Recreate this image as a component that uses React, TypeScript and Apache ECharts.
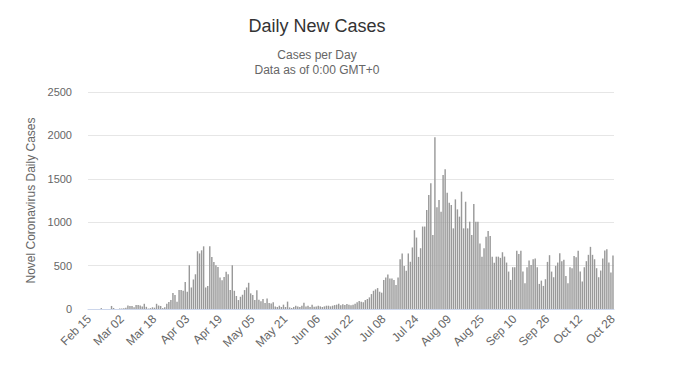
import React, { useEffect, useRef } from "react";
import * as echarts from "echarts";

// Daily new cases, Feb 15 .. Oct 28 (257 days)
const casesFeb: number[] = [0, 0, 0, 0, 0, 0, 10, 0, 0, 0, 0, 35, 12, 0, 0];
const casesMar: number[] = [
  5, 5, 8, 15, 40, 35, 35, 20, 45, 45, 40, 30, 60, 25, 5, 10, 20, 15, 60, 40, 35, 10, 20, 60, 80, 105, 185, 160,
  84, 218, 218,
];
const casesApr: number[] = [
  210, 310, 200, 504, 248, 340, 400, 665, 640, 676, 722, 248, 264, 722, 600, 542, 504, 485, 363, 332, 370, 428,
  400, 218, 504, 210, 150, 103, 141, 164,
];
const casesMay: number[] = [
  218, 248, 302, 180, 160, 103, 215, 108, 88, 115, 70, 120, 70, 62, 77, 30, 23, 38, 23, 50, 23, 85, 19, 12, 23,
  38, 30, 23, 38, 73, 30,
];
const casesJun: number[] = [
  38, 23, 50, 25, 30, 38, 30, 23, 30, 38, 38, 30, 38, 45, 50, 60, 42, 54, 46, 57, 50, 42, 50, 61, 77, 92, 84, 77,
  103, 115,
];
const casesJul: number[] = [
  134, 172, 210, 226, 241, 199, 188, 333, 364, 398, 352, 352, 333, 276, 364, 574, 640, 494, 440, 640, 544, 709,
  908, 823, 600, 700, 950, 950, 1140, 1313, 1448,
];
const casesAug: number[] = [
  852, 1978, 1171, 1256, 1121, 1544, 1609, 1340, 1225, 1198, 929, 1263, 1148, 1064, 1352, 929, 1236, 929, 1006,
  852, 1210, 1006, 1006, 756, 603, 699, 833, 899, 841, 603, 534,
];
const casesSep: number[] = [
  603, 603, 589, 654, 604, 535, 431, 335, 481, 481, 670, 635, 670, 431, 296, 481, 558, 508, 573, 581, 481, 289,
  327, 266, 343, 543, 620, 431, 366, 497,
];
const casesOct: number[] = [
  535, 643, 551, 566, 381, 296, 481, 470, 612, 597, 670, 431, 316, 481, 551, 624, 716, 624, 573, 470, 366, 443,
  581, 674, 689, 535, 420, 616,
];

const cases: number[] = [
  ...casesFeb,
  ...casesMar,
  ...casesApr,
  ...casesMay,
  ...casesJun,
  ...casesJul,
  ...casesAug,
  ...casesSep,
  ...casesOct,
];

const MONTHS = ["Jan", "Feb", "Mar", "Apr", "May", "Jun", "Jul", "Aug", "Sep", "Oct", "Nov", "Dec"];
const startDate = Date.UTC(2020, 1, 15);
const categories: string[] = cases.map((_, i) => {
  const d = new Date(startDate + i * 86400000);
  const dd = d.getUTCDate();
  return `${MONTHS[d.getUTCMonth()]} ${dd < 10 ? "0" + dd : dd}`;
});

const yTicks = [0, 500, 1000, 1500, 2000, 2500];

export default function App() {
  const ref = useRef<HTMLDivElement>(null);
  useEffect(() => {
    if (!ref.current) return;
    const chart = echarts.init(ref.current, undefined, { renderer: "svg" });
    const font = "'Liberation Sans', Arial, sans-serif";
    chart.setOption({
      animation: false,
      title: {
        text: "Daily New Cases",
        subtext: "Cases per Day\nData as of 0:00 GMT+0",
        left: 304,
        textAlign: "center",
        top: 4,
        itemGap: 12,
        textStyle: { fontFamily: font, fontSize: 18, fontWeight: "normal", color: "#333333" },
        subtextStyle: { fontFamily: font, fontSize: 12, color: "#666666", lineHeight: 15 },
      },
      grid: { left: 80, right: 52, top: 84, bottom: 51, containLabel: false },
      xAxis: {
        type: "category",
        data: categories,
        boundaryGap: true,
        axisLine: { lineStyle: { color: "#ccd6eb" } },
        axisTick: { show: false },
        axisLabel: {
          interval: 15,
          rotate: 45,
          color: "#666666",
          fontFamily: font,
          fontSize: 12,
          margin: 8,
        },
      },
      yAxis: {
        type: "value",
        min: yTicks[0],
        max: yTicks[yTicks.length - 1],
        interval: 500,
        name: "Novel Coronavirus Daily Cases",
        nameLocation: "middle",
        nameGap: 48,
        nameTextStyle: { color: "#666666", fontFamily: font, fontSize: 12 },
        axisLine: { show: false },
        axisTick: { show: false },
        axisLabel: {
          color: "#666666",
          fontFamily: font,
          fontSize: 11,
          margin: 16,
          formatter: (v: number) => String(v),
        },
        splitLine: { lineStyle: { color: "#e6e6e6" } },
      },
      series: [
        {
          type: "bar",
          data: cases,
          barCategoryGap: "30%",
          itemStyle: { color: "#999999" },
        },
      ],
    });
    return () => chart.dispose();
  }, []);
  return <div ref={ref} style={{ width: 658, height: 352 }} />;
}
